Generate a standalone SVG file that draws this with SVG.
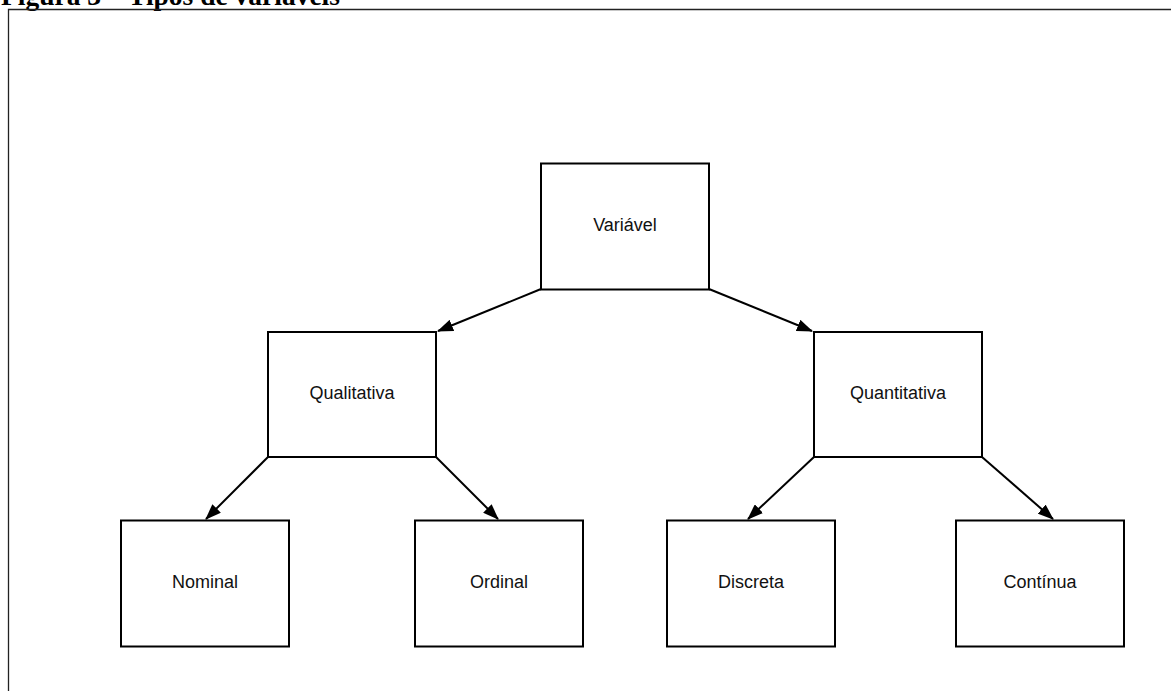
<svg xmlns="http://www.w3.org/2000/svg" width="1171" height="691" viewBox="0 0 1171 691">
  <style>
    .box rect { fill: #ffffff; stroke: #000000; stroke-width: 2; }
    .box text { font-family: "Liberation Sans", Arial, sans-serif; font-size: 18px; fill: #111111; text-anchor: middle; dominant-baseline: central; }
    .edge { fill: none; stroke: #000000; stroke-width: 2; marker-end: url(#arrow); }
    .title { font-family: "Liberation Serif", "Times New Roman", serif; font-weight: bold; font-size: 27.5px; fill: #000000; }
  </style>
  <defs>
    <marker id="arrow" viewBox="0 0 16 12" refX="15" refY="6" markerWidth="16" markerHeight="12" markerUnits="userSpaceOnUse" orient="auto">
      <path d="M0,0 L16,6 L0,12 Z" fill="#000000"/>
    </marker>
  </defs>
  <rect width="1171" height="691" fill="#ffffff"/>

  <!-- caption, clipped by the page top -->
  <text class="title" x="1" y="4.5">Figura 3 – Tipos de variáveis</text>

  <!-- figure frame -->
  <path d="M8.5,700 V9.5 H1171" fill="none" stroke="#222222" stroke-width="1.3"/>

  <g id="connectors">
    <line class="edge" x1="541" y1="289" x2="438" y2="331"/>
    <line class="edge" x1="709" y1="289" x2="812" y2="331"/>
    <line class="edge" x1="268" y1="457" x2="206" y2="519"/>
    <line class="edge" x1="436" y1="457" x2="498" y2="519"/>
    <line class="edge" x1="814" y1="457" x2="748" y2="519"/>
    <line class="edge" x1="982" y1="457" x2="1053" y2="519"/>
  </g>

  <g id="variavel" class="box">
    <rect x="541" y="163.5" width="168" height="126"/>
    <text x="625" y="225">Variável</text>
  </g>
  <g id="qualitativa" class="box">
    <rect x="268" y="332" width="168" height="125"/>
    <text x="352" y="393">Qualitativa</text>
  </g>
  <g id="quantitativa" class="box">
    <rect x="814" y="332" width="168" height="125"/>
    <text x="898" y="393">Quantitativa</text>
  </g>
  <g id="nominal" class="box">
    <rect x="121" y="520.5" width="168" height="126"/>
    <text x="205" y="582">Nominal</text>
  </g>
  <g id="ordinal" class="box">
    <rect x="415" y="520.5" width="168" height="126"/>
    <text x="499" y="582">Ordinal</text>
  </g>
  <g id="discreta" class="box">
    <rect x="667" y="520.5" width="168" height="126"/>
    <text x="751" y="582">Discreta</text>
  </g>
  <g id="continua" class="box">
    <rect x="956" y="520.5" width="168" height="126"/>
    <text x="1040" y="582">Contínua</text>
  </g>
</svg>
